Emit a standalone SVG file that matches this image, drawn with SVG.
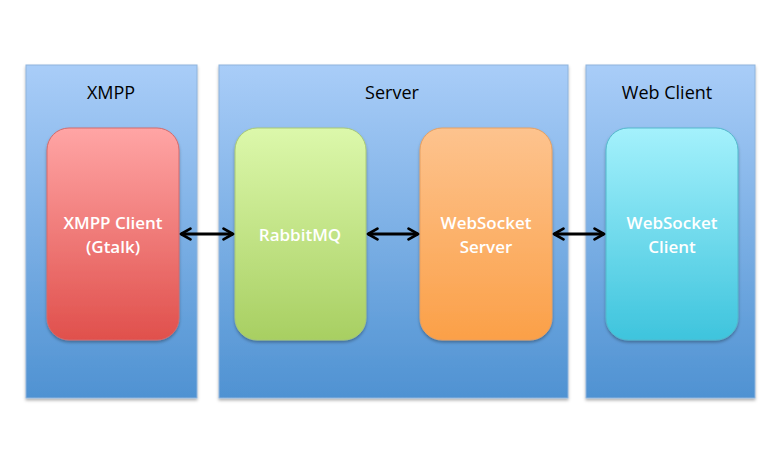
<svg xmlns="http://www.w3.org/2000/svg" width="779" height="472" viewBox="0 0 779 472">
<defs>
<linearGradient id="gPanel" x1="0" y1="0" x2="0" y2="1"><stop offset="0" stop-color="#a9cdf8"/><stop offset="1" stop-color="#4f92d2"/></linearGradient>
<linearGradient id="gRed" x1="0" y1="0" x2="0" y2="1"><stop offset="0" stop-color="#ffa5a5"/><stop offset="1" stop-color="#e0504c"/></linearGradient>
<linearGradient id="gGreen" x1="0" y1="0" x2="0" y2="1"><stop offset="0" stop-color="#dcf8ab"/><stop offset="1" stop-color="#a8cf62"/></linearGradient>
<linearGradient id="gOrange" x1="0" y1="0" x2="0" y2="1"><stop offset="0" stop-color="#fdc38e"/><stop offset="1" stop-color="#fba048"/></linearGradient>
<linearGradient id="gCyan" x1="0" y1="0" x2="0" y2="1"><stop offset="0" stop-color="#a4f1fc"/><stop offset="1" stop-color="#3ec4dd"/></linearGradient>
<filter id="sh" x="-10%" y="-10%" width="120%" height="120%"><feDropShadow dx="0" dy="2" stdDeviation="1.5" flood-color="#000" flood-opacity="0.3"/></filter>
<marker id="ah" viewBox="0 0 10 10" refX="8.5" refY="5" markerWidth="4.5" markerHeight="4.5" orient="auto-start-reverse" markerUnits="strokeWidth"><path d="M1.5,1 L8.5,5 L1.5,9" fill="none" stroke="#000" stroke-width="2" stroke-linecap="round" stroke-linejoin="round"/></marker>
<style>
.panel{stroke:#8fb4dc;stroke-width:1;filter:url(#sh)}
.node{stroke-width:1;filter:url(#sh)}
.ptitle{font-family:"Open Sans","Liberation Sans",sans-serif;font-size:18px;fill:#000;text-anchor:middle}
.nlabel{font-family:"Open Sans","Liberation Sans",sans-serif;font-size:17px;font-weight:600;fill:#fff;text-anchor:middle}
.conn{stroke:#000;stroke-width:3;fill:none;marker-start:url(#ah);marker-end:url(#ah)}
</style>
</defs>
<rect width="779" height="472" fill="#fff"/>
<g id="panel-xmpp"><rect class="panel" x="26" y="65" width="171" height="333" fill="url(#gPanel)"/><text class="ptitle" x="111" y="99">XMPP</text></g>
<g id="panel-server"><rect class="panel" x="219" y="65" width="349" height="333" fill="url(#gPanel)"/><text class="ptitle" x="392" y="99">Server</text></g>
<g id="panel-webclient"><rect class="panel" x="586" y="65" width="169" height="333" fill="url(#gPanel)"/><text class="ptitle" x="667" y="99">Web Client</text></g>
<g id="node-xmpp-client"><rect class="node" x="47" y="128" width="132" height="212" rx="22" fill="url(#gRed)" stroke="#d46a6a"/><text class="nlabel" x="113" y="229">XMPP Client</text><text class="nlabel" x="113" y="253">(Gtalk)</text></g>
<g id="node-rabbitmq"><rect class="node" x="235" y="128" width="131" height="212" rx="22" fill="url(#gGreen)" stroke="#a8c877"/><text class="nlabel" x="300" y="241">RabbitMQ</text></g>
<g id="node-ws-server"><rect class="node" x="420" y="128" width="132" height="212" rx="22" fill="url(#gOrange)" stroke="#e8a060"/><text class="nlabel" x="486" y="229">WebSocket</text><text class="nlabel" x="486" y="253">Server</text></g>
<g id="node-ws-client"><rect class="node" x="606" y="128" width="132" height="212" rx="22" fill="url(#gCyan)" stroke="#52b8cc"/><text class="nlabel" x="672" y="229">WebSocket</text><text class="nlabel" x="672" y="253">Client</text></g>
<g id="connectors">
<line class="conn" x1="181" y1="234" x2="233" y2="234"/>
<line class="conn" x1="368" y1="234" x2="418" y2="234"/>
<line class="conn" x1="554" y1="234" x2="604" y2="234"/>
</g>
</svg>
